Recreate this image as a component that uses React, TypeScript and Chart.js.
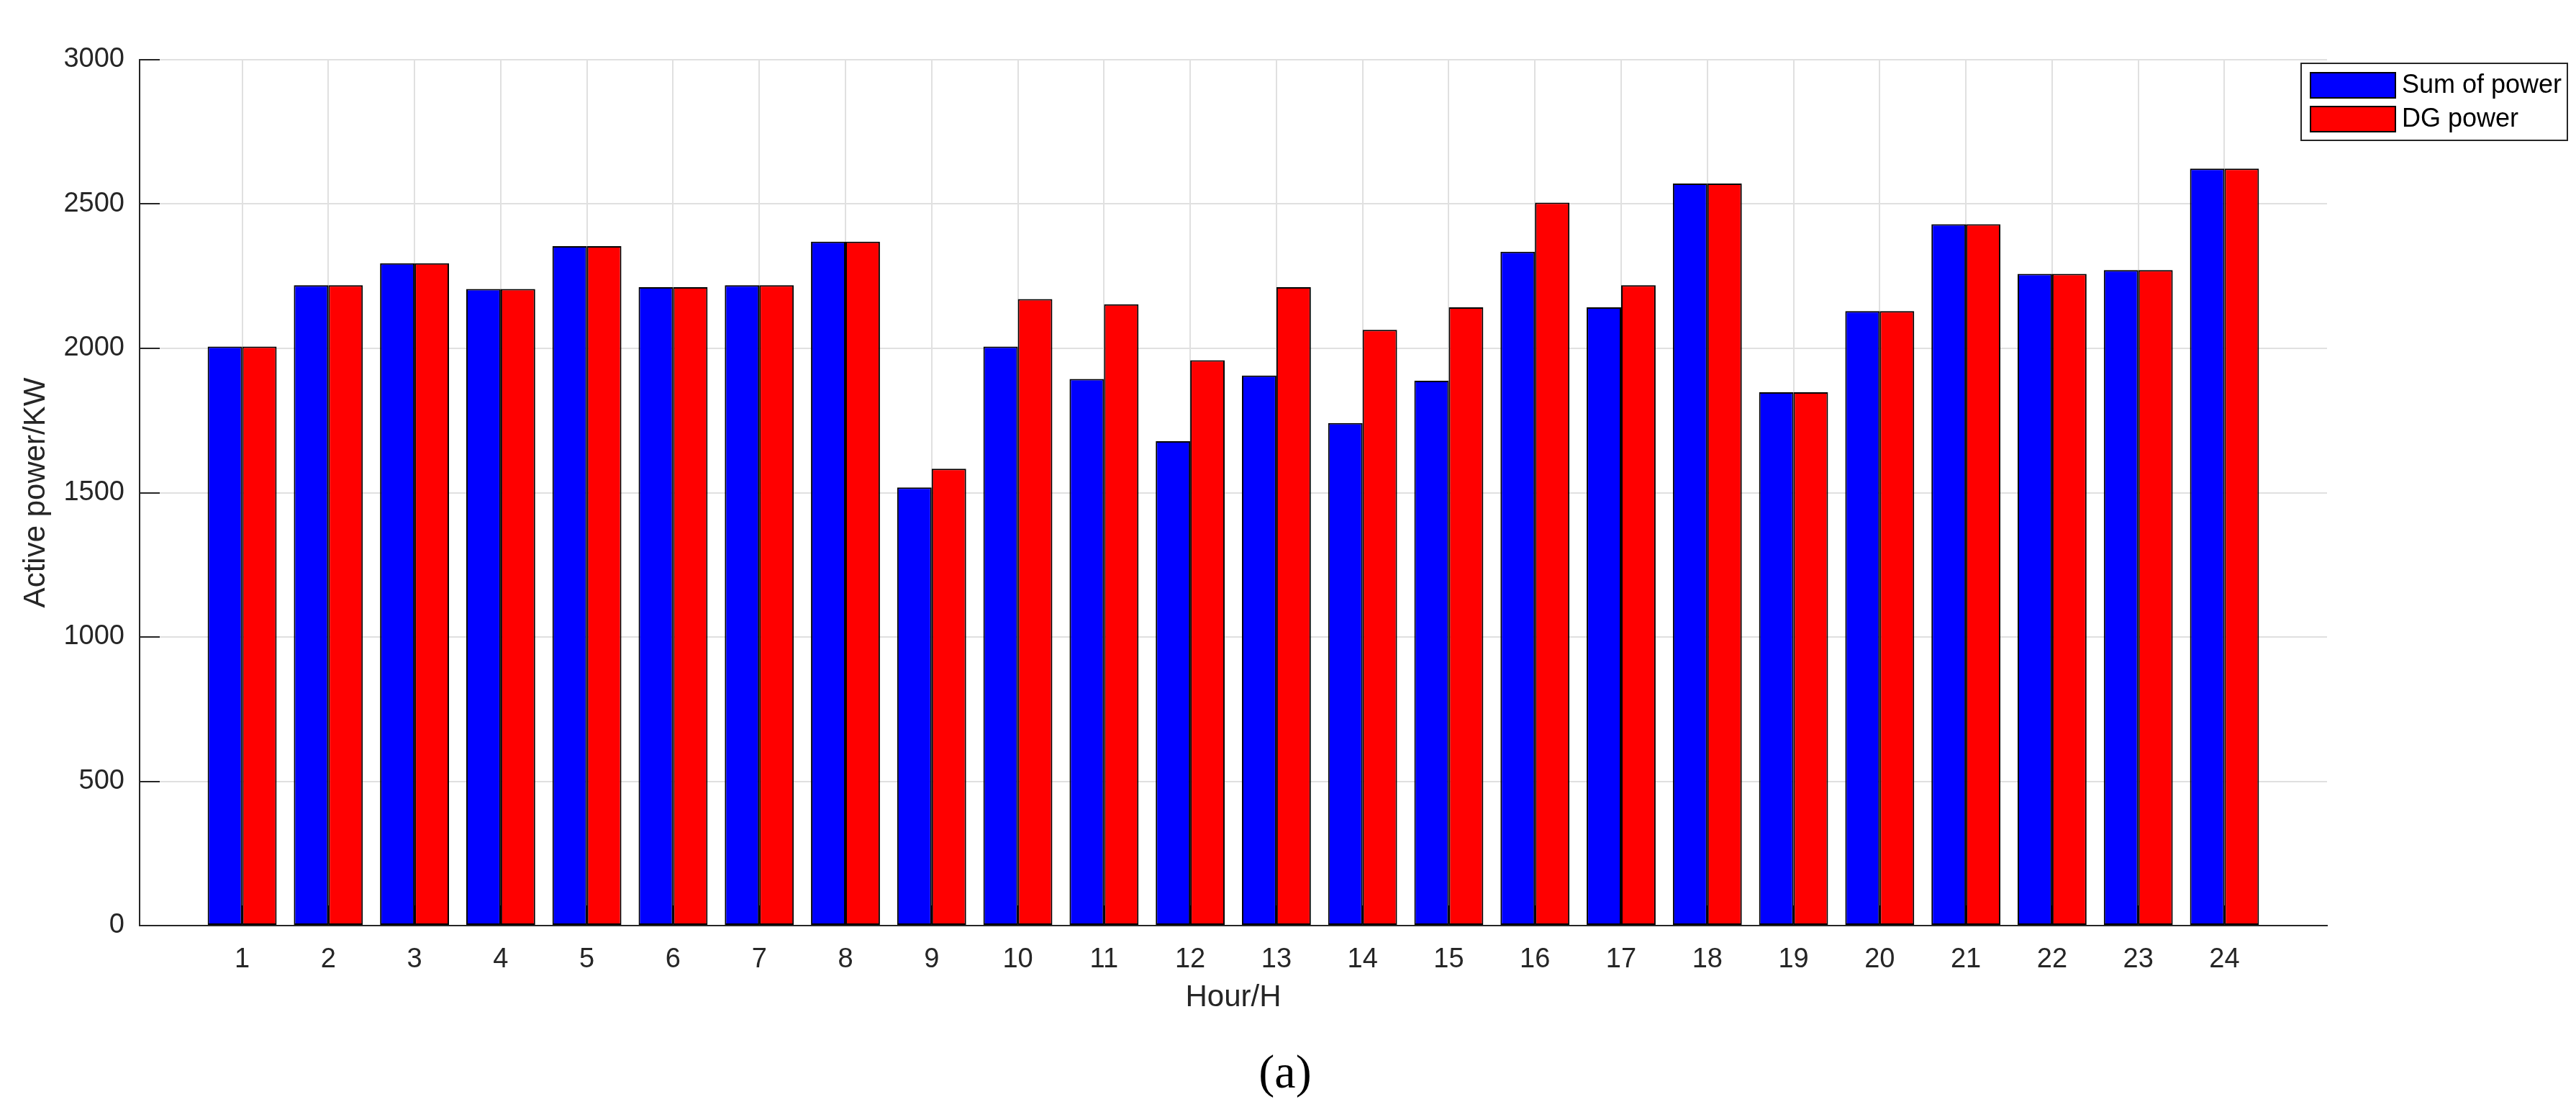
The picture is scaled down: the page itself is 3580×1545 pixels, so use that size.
import React, { useEffect, useRef } from 'react';
import { Chart, registerables } from 'chart.js';

Chart.register(...registerables);

const hours = [1, 2, 3, 4, 5, 6, 7, 8, 9, 10, 11, 12, 13, 14, 15, 16, 17, 18, 19, 20, 21, 22, 23, 24];
const sumOfPower = [2006, 2219, 2295, 2206, 2354, 2212, 2219, 2370, 1518, 2006, 1894, 1678, 1906, 1741, 1888, 2335, 2142, 2571, 1848, 2129, 2430, 2258, 2271, 2623];
const dgPower = [2006, 2219, 2295, 2206, 2354, 2212, 2219, 2370, 1583, 2171, 2153, 1959, 2212, 2064, 2142, 2505, 2219, 2571, 1848, 2129, 2430, 2258, 2271, 2623];
const yTicks = [0, 500, 1000, 1500, 2000, 2500, 3000];
const seriesLabels = ['Sum of power', 'DG power'];
const seriesColors = ['#0000FF', '#FF0000'];
const xTitle = 'Hour/H';
const yTitle = 'Active power/KW';
const caption = '(a)';

const SANS = "'Liberation Sans', Arial, Helvetica, sans-serif";
const AXIS = '#262626';

const decor = {
  id: 'decor',
  beforeDatasetsDraw(chart: any) {
    const { ctx, chartArea, scales } = chart;
    ctx.save();
    ctx.strokeStyle = AXIS;
    ctx.lineWidth = 2;
    yTicks.forEach((v) => {
      const y = Math.round(scales.y.getPixelForValue(v));
      ctx.beginPath();
      ctx.moveTo(chartArea.left, y);
      ctx.lineTo(chartArea.left + 28, y);
      ctx.stroke();
    });
    hours.forEach((h) => {
      const x = Math.round(scales.x.getPixelForValue(h));
      ctx.beginPath();
      ctx.moveTo(x, chartArea.bottom);
      ctx.lineTo(x, chartArea.bottom - 28);
      ctx.stroke();
    });
    ctx.restore();
  },
  afterDraw(chart: any) {
    const { ctx } = chart;
    ctx.save();
    // legend
    const bx = 3198, by = 88, bw = 370, bh = 107;
    ctx.fillStyle = '#ffffff';
    ctx.fillRect(bx, by, bw, bh);
    ctx.strokeStyle = AXIS;
    ctx.lineWidth = 2;
    ctx.strokeRect(bx, by, bw, bh);
    const rows = [118, 165];
    seriesLabels.forEach((lab, i) => {
      const cy = rows[i];
      ctx.fillStyle = seriesColors[i];
      ctx.fillRect(3211, cy - 17, 118, 35);
      ctx.strokeStyle = '#000';
      ctx.lineWidth = 2;
      ctx.strokeRect(3211, cy - 17, 118, 35);
      ctx.fillStyle = '#000';
      ctx.font = `36px ${SANS}`;
      ctx.textAlign = 'left';
      ctx.textBaseline = 'middle';
      ctx.fillText(lab, 3338, cy + 1);
    });
    // caption
    ctx.fillStyle = '#000';
    ctx.font = "66px 'Liberation Serif', 'Times New Roman', serif";
    ctx.textAlign = 'center';
    ctx.textBaseline = 'alphabetic';
    ctx.fillText(caption, 1786, 1511);
    ctx.restore();
  },
};

export default function App() {
  const ref = useRef<HTMLCanvasElement>(null);
  useEffect(() => {
    document.body.style.margin = '0';
    const canvas = ref.current;
    if (!canvas) return;
    const chart = new Chart(canvas, {
      type: 'bar',
      data: {
        datasets: [
          {
            label: seriesLabels[0],
            data: hours.map((h, i) => ({ x: h, y: sumOfPower[i] })),
            backgroundColor: seriesColors[0],
            borderColor: '#000000',
            borderWidth: 2,
            borderSkipped: false,
            categoryPercentage: 0.8,
            barPercentage: 1.0,
          },
          {
            label: seriesLabels[1],
            data: hours.map((h, i) => ({ x: h, y: dgPower[i] })),
            backgroundColor: seriesColors[1],
            borderColor: '#000000',
            borderWidth: 2,
            borderSkipped: false,
            categoryPercentage: 0.8,
            barPercentage: 1.0,
          },
        ],
      },
      options: {
        responsive: false,
        animation: false,
        devicePixelRatio: 1,
        events: [],
        layout: { padding: { top: 83, right: 346, left: 0, bottom: 0 } },
        plugins: {
          legend: { display: false },
          tooltip: { enabled: false },
          title: { display: false },
        },
        scales: {
          x: {
            type: 'linear',
            min: -0.19,
            max: 25.19,
            offset: false,
            afterBuildTicks: (axis: any) => {
              axis.ticks = hours.map((h) => ({ value: h }));
            },
            afterFit: (axis: any) => {
              axis.height = 259;
            },
            grid: {
              display: true,
              offset: false,
              color: '#e0e0e0',
              lineWidth: 2,
              drawTicks: false,
            },
            border: { display: true, color: AXIS, width: 2 },
            ticks: {
              autoSkip: false,
              maxRotation: 0,
              minRotation: 0,
              padding: 25,
              color: AXIS,
              font: { family: SANS, size: 38 },
              callback: (v: any) => String(v),
            },
            title: {
              display: true,
              text: xTitle,
              color: AXIS,
              font: { family: SANS, size: 42 },
              padding: { top: 0, bottom: 133 },
            },
          },
          y: {
            type: 'linear',
            min: 0,
            max: 3000,
            afterBuildTicks: (axis: any) => {
              axis.ticks = yTicks.map((v) => ({ value: v }));
            },
            afterFit: (axis: any) => {
              axis.width = 194;
            },
            grid: {
              display: true,
              color: '#e0e0e0',
              lineWidth: 2,
              drawTicks: false,
            },
            border: { display: true, color: AXIS, width: 2 },
            ticks: {
              padding: 21,
              color: AXIS,
              font: { family: SANS, size: 38 },
              callback: (v: any) => String(v),
            },
            title: {
              display: true,
              text: yTitle,
              color: AXIS,
              font: { family: SANS, size: 42 },
              padding: { top: 25, bottom: 0 },
            },
          },
        },
      },
      plugins: [decor],
    } as any);
    return () => chart.destroy();
  }, []);
  return (
    <div style={{ position: 'absolute', left: 0, top: 0, width: 3580, height: 1545, background: '#ffffff' }}>
      <canvas ref={ref} width={3580} height={1545} style={{ display: 'block' }} />
    </div>
  );
}
